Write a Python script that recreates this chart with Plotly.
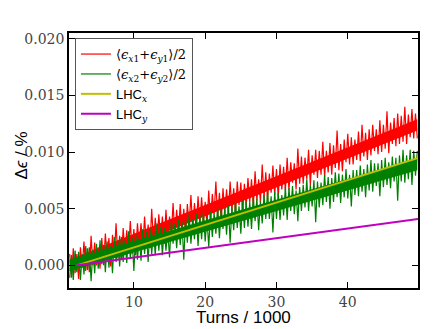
import numpy as np
import plotly.graph_objects as go

# emittance growth in units of 1e-4 %, one sample every 250 turns
turns = np.arange(196) * 0.25 + 1.0

red_vals = [10, -11, 15, -7, 10, -12, 16, -2, 21, -5,
            15, -6, 26, 0, 20, 0, 16, -3, 24, 0,
            28, 6, 24, -1, 27, 7, 37, 6, 26, 5,
            33, 10, 31, 13, 39, 10, 32, 9, 37, 18,
            37, 15, 43, 18, 36, 15, 50, 20, 42, 19,
            45, 24, 43, 19, 49, 24, 43, 27, 55, 25,
            49, 29, 54, 28, 50, 25, 54, 35, 62, 33,
            55, 32, 61, 38, 60, 38, 56, 35, 66, 38,
            63, 45, 74, 42, 64, 39, 68, 46, 67, 45,
            74, 48, 68, 46, 74, 53, 73, 46, 72, 52,
            77, 56, 76, 52, 83, 57, 76, 56, 89, 59,
            82, 58, 81, 64, 88, 62, 85, 60, 89, 67,
            87, 66, 95, 66, 91, 73, 90, 67, 103, 72,
            96, 72, 95, 76, 102, 71, 97, 80, 102, 77,
            101, 80, 109, 78, 101, 82, 108, 80, 106, 86,
            119, 84, 107, 83, 111, 91, 116, 89, 113, 89,
            111, 93, 118, 92, 124, 96, 117, 93, 120, 97,
            124, 101, 120, 98, 128, 100, 124, 103, 136, 99,
            126, 107, 130, 105, 134, 107, 132, 109, 140, 107,
            133, 113, 138, 112, 134, 112]

green_vals = [-11, 9, -13, 13, -6, 12, -13, 10, -8, 17,
              -4, 16, -14, 14, -7, 19, -3, 22, 1, 18,
              -6, 21, -2, 17, -7, 25, 3, 22, -1, 25,
              3, 22, 2, 30, 6, 25, -5, 28, 5, 25,
              4, 32, 10, 30, 3, 33, 10, 30, 9, 37,
              13, 34, 9, 33, 13, 31, 7, 39, 19, 37,
              15, 40, 18, 38, 5, 41, 20, 45, 19, 40,
              23, 46, 17, 44, 23, 47, 21, 42, 16, 47,
              25, 46, 28, 51, 24, 50, 32, 50, 27, 53,
              20, 51, 31, 57, 33, 52, 28, 57, 33, 56,
              34, 56, 32, 60, 39, 59, 31, 57, 37, 62,
              41, 65, 41, 61, 29, 65, 41, 64, 40, 62,
              44, 69, 40, 68, 48, 70, 45, 66, 39, 69,
              48, 71, 51, 76, 48, 71, 52, 75, 38, 74,
              51, 73, 53, 80, 56, 78, 50, 77, 56, 82,
              60, 81, 55, 80, 60, 85, 59, 80, 52, 84,
              62, 84, 61, 88, 65, 85, 60, 89, 66, 93,
              65, 90, 70, 90, 61, 93, 69, 95, 71, 91,
              68, 96, 74, 95, 57, 97, 74, 102, 73, 97,
              76, 102, 71, 101, 79, 101]

# dense core of each noisy band (start / end), 1e-4 %
band_turns = [1.0, 49.75]
red_lo = [-5, 119]
red_hi = [5, 129]
green_lo = [-5, 84]
green_hi = [5, 94]

# LHC reference lines
lhc_turns = [2.0, 50.0]
lhc_x = [0.0, 0.0095]
lhc_y = [0.0, 0.0041]

scale = 1e-4
sans = "Liberation Sans"
serif = "DejaVu Serif"

def math(s):
    return '<span style="font-family:DejaVu Serif">' + s + '</span>'

fig = go.Figure()

def noisy(vals, lo, hi, color, name):
    fig.add_trace(go.Scatter(x=band_turns, y=np.array(lo) * scale, mode="lines",
                             line=dict(width=0, color=color), showlegend=False, hoverinfo="skip"))
    fig.add_trace(go.Scatter(x=band_turns, y=np.array(hi) * scale, mode="lines", fill="tonexty",
                             fillcolor=color, line=dict(width=0, color=color),
                             showlegend=False, hoverinfo="skip"))
    fig.add_trace(go.Scatter(x=turns, y=np.array(vals) * scale, mode="lines",
                             line=dict(color=color, width=1.2, simplify=False), name=name))

noisy(red_vals, red_lo, red_hi, "#ff0000",
      math("⟨<i>ϵ</i><sub><i>x</i>1</sub>+<i>ϵ</i><sub><i>y</i>1</sub>⟩/2"))
noisy(green_vals, green_lo, green_hi, "#008000",
      math("⟨<i>ϵ</i><sub><i>x</i>2</sub>+<i>ϵ</i><sub><i>y</i>2</sub>⟩/2"))
fig.add_trace(go.Scatter(x=lhc_turns, y=lhc_x, mode="lines", line=dict(color="#bfbf00", width=2),
                         name="LHC<sub>" + math("<i>x</i>") + "</sub>"))
fig.add_trace(go.Scatter(x=lhc_turns, y=lhc_y, mode="lines", line=dict(color="#bf00bf", width=2),
                         name="LHC<sub>" + math("<i>y</i>") + "</sub>"))

axis = dict(showgrid=False, zeroline=False, showline=True, linecolor="black", linewidth=1.5,
            mirror="allticks", ticks="inside", ticklen=6, tickwidth=1.2, tickcolor="black",
            automargin=False, tickfont=dict(family=serif, size=14, color="#444"))

fig.update_layout(
    width=436, height=329,
    margin=dict(l=61, r=26, t=25, b=49),
    paper_bgcolor="white", plot_bgcolor="white",
    showlegend=True,
    legend=dict(x=0.017, y=0.98, xanchor="left", yanchor="top", bgcolor="white",
                bordercolor="#555", borderwidth=1, font=dict(family=sans, size=13, color="black"),
                tracegroupgap=0, itemwidth=30, traceorder="normal"),
    xaxis=dict(axis, range=[0.9, 49.85], tickvals=[10, 20, 30, 40]),
    yaxis=dict(axis, range=[-0.002, 0.0205], tickvals=[0, 0.005, 0.01, 0.015, 0.02],
               tickformat=".3f"),
    annotations=[
        dict(text="Δ<i>ϵ</i> / %", xref="paper", yref="paper",
             x=-0.137, y=0.52, xanchor="center", yanchor="middle", textangle=-90,
             showarrow=False, font=dict(family=sans, size=17, color="black")),
        dict(text="Turns / 1000", xref="paper", yref="paper", x=0.5, y=-0.116,
             xanchor="center", yanchor="middle", showarrow=False,
             font=dict(family=sans, size=17, color="black")),
    ],
)

fig.write_html("out.html")
